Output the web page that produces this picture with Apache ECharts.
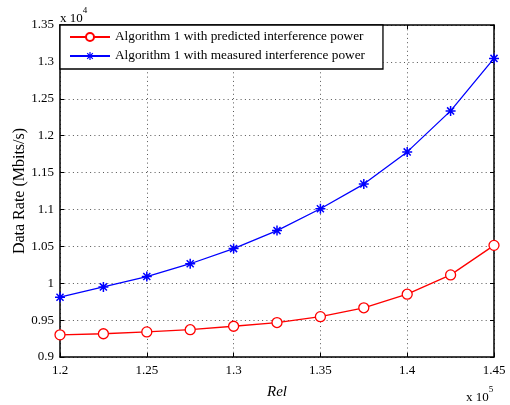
<!DOCTYPE html>
<html>
<head>
<meta charset="utf-8">
<script src="https://cdn.jsdelivr.net/npm/echarts@6/dist/echarts.min.js"></script>
<style>html,body{margin:0;padding:0;background:#fff}#c{width:510px;height:405px}</style>
</head>
<body>
<div id="c"></div>
<script>
const xValues = [1.2, 1.225, 1.25, 1.275, 1.3, 1.325, 1.35, 1.375, 1.4, 1.425, 1.45];
const predicted = [0.930, 0.9315, 0.934, 0.937, 0.9417, 0.9467, 0.9547, 0.9667, 0.9851, 1.0113, 1.0513];
const measured = [0.981, 0.995, 1.0091, 1.0264, 1.0469, 1.0713, 1.101, 1.1344, 1.178, 1.2336, 1.3047];
const seriesNames = ['Algorithm 1 with predicted interference power', 'Algorithm 1 with measured interference power'];
const xLabel = 'Rel';
const yLabel = 'Data Rate (Mbits/s)';

const FONT = '"Liberation Serif", "Times New Roman", serif';
const starPath = 'path://M-1.5,-10L1.5,-10L1.5,10L-1.5,10Z M-10,-1.5L10,-1.5L10,1.5L-10,1.5Z M-6,-8.1L8.1,6L6,8.1L-8.1,-6Z M-8.1,6L6,-8.1L8.1,-6L-6,8.1Z';

const chart = echarts.init(document.getElementById('c'), null, {renderer: 'canvas'});
const gridLine = {show: true, lineStyle: {color: '#555', width: 1, type: [1, 3.3]}};
const axisCommon = {
  axisLine: {show: true, onZero: false, lineStyle: {color: '#000', width: 1.5}},
  axisTick: {show: true, inside: true, length: 4, lineStyle: {color: '#000'}},
};
chart.setOption({
  animation: false,
  backgroundColor: '#fff',
  grid: {left: 60, right: 16, top: 25, bottom: 43, containLabel: false},
  legend: {
    orient: 'vertical', left: 60, top: 25,
    padding: [5, 18, 6, 9],
    itemGap: 5, itemWidth: 40, itemHeight: 10,
    backgroundColor: '#fff', borderColor: '#000', borderWidth: 1.3, borderRadius: 0,
    textStyle: {fontFamily: FONT, fontSize: 13.3, color: '#000', lineHeight: 14},
    data: seriesNames
  },
  xAxis: [{
    type: 'value', min: 1.2, max: 1.45, interval: 0.05, position: 'bottom',
    name: xLabel, nameLocation: 'middle', nameGap: 28, nameMoveOverlap: false,
    nameTextStyle: {fontFamily: FONT, fontSize: 15, fontStyle: 'italic', color: '#000'},
    axisLabel: {fontFamily: FONT, fontSize: 13, color: '#000', margin: 7},
    splitLine: gridLine, ...axisCommon
  }, {
    type: 'value', min: 1.2, max: 1.45, interval: 0.05, position: 'top',
    axisLabel: {show: false}, splitLine: {show: false}, ...axisCommon
  }],
  yAxis: [{
    type: 'value', min: 0.9, max: 1.35, interval: 0.05, position: 'left',
    name: yLabel, nameLocation: 'middle', nameGap: 32, nameRotate: 90, nameMoveOverlap: false,
    nameTextStyle: {fontFamily: FONT, fontSize: 16, color: '#000'},
    axisLabel: {fontFamily: FONT, fontSize: 13, color: '#000', margin: 6},
    splitLine: gridLine, ...axisCommon
  }, {
    type: 'value', min: 0.9, max: 1.35, interval: 0.05, position: 'right',
    axisLabel: {show: false}, splitLine: {show: false}, ...axisCommon
  }],
  graphic: [
    {type: 'text', left: 60, top: 6, style: {
      text: '{a|x 10}{s|4}', fill: '#000',
      rich: {a: {fontFamily: FONT, fontSize: 13, padding: [6, 0, 0, 0]}, s: {fontFamily: FONT, fontSize: 9, verticalAlign: 'top'}}
    }},
    {type: 'text', left: 466, top: 385, style: {
      text: '{a|x 10}{s|5}', fill: '#000',
      rich: {a: {fontFamily: FONT, fontSize: 13, padding: [6, 0, 0, 0]}, s: {fontFamily: FONT, fontSize: 9, verticalAlign: 'top'}}
    }}
  ],
  series: [{
    name: seriesNames[0], type: 'line',
    data: xValues.map((x, i) => [x, predicted[i]]),
    symbol: 'circle', symbolSize: 10, showAllSymbol: true,
    lineStyle: {color: '#ff0000', width: 1.3},
    itemStyle: {color: '#fff', borderColor: '#ff0000', borderWidth: 1.3},
    z: 5
  }, {
    name: seriesNames[1], type: 'line',
    data: xValues.map((x, i) => [x, measured[i]]),
    symbol: starPath, symbolSize: 10, showAllSymbol: true,
    lineStyle: {color: '#0000ff', width: 1.3},
    itemStyle: {color: '#0000ff', borderWidth: 0},
    z: 5
  }]
});
</script>
</body>
</html>
